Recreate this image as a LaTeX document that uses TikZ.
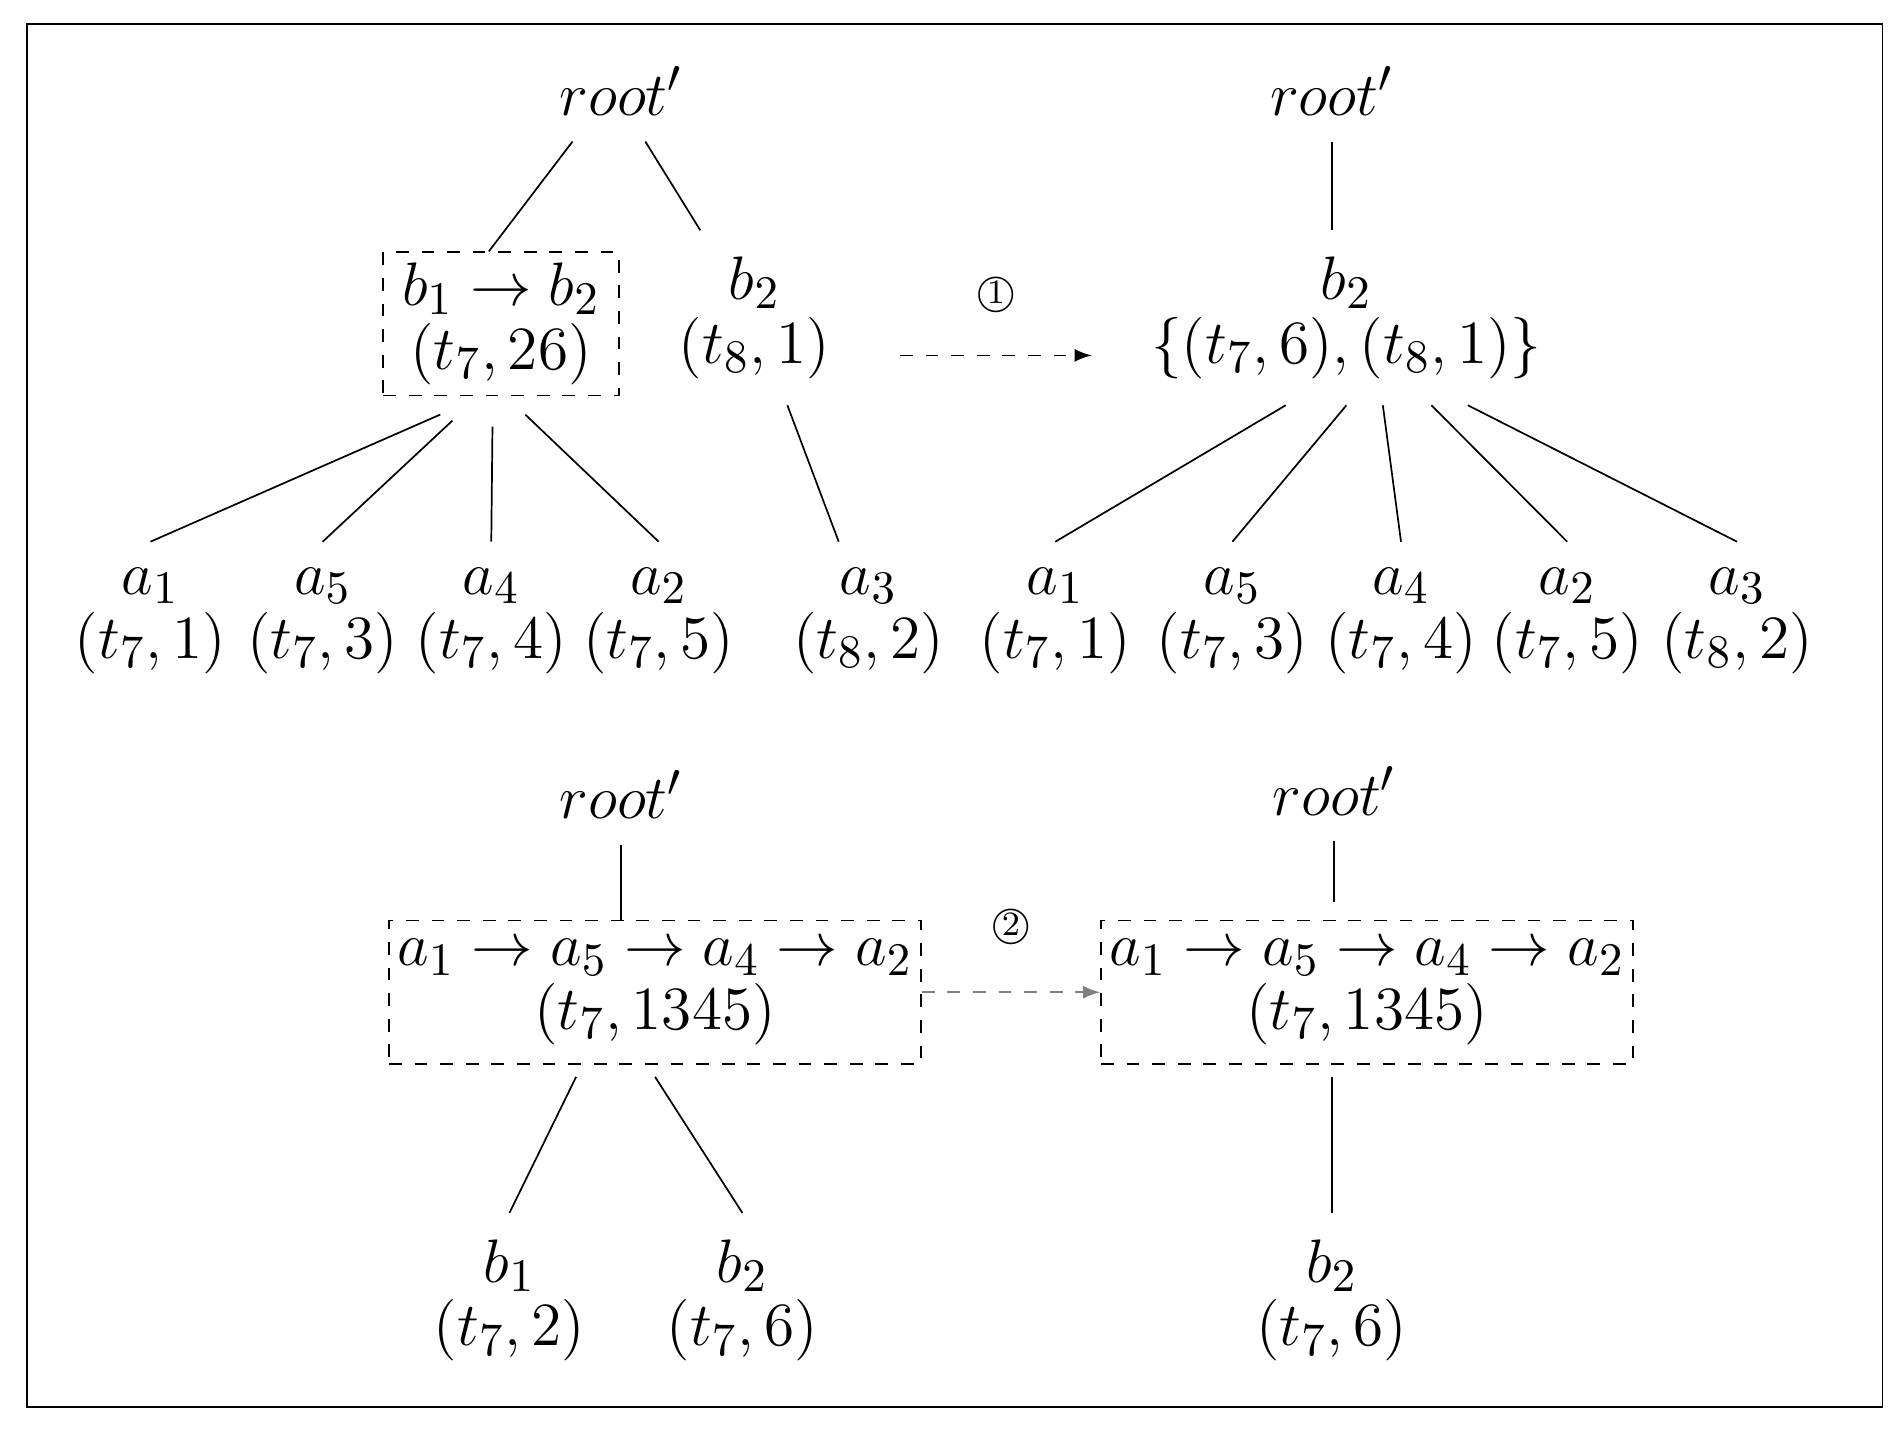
\documentclass[tikz,border=0pt]{standalone}
\usepackage{amsmath,amssymb}
\usepackage{tikz}
\usetikzlibrary{positioning}

\begin{document}
\fontsize{15}{15}\selectfont
\begin{tikzpicture}[x=0.01cm, y=-0.01cm,
    lab/.style = {align=center, inner sep=6pt},
    seq/.style = {align=center, draw, dashed, inner sep=2pt},
    flow/.style = {->, dashed, >=latex}]
    \useasboundingbox (0,0) rectangle (1568,1179);
    \draw (22,20) rectangle (1552,1160);

    % upper left tree
    \node[lab] (r1) at (512,75) {$root'$};
    \node[seq, minimum width=1.94cm, minimum height=1.18cm] (p1) at (413,267) {$b_1\rightarrow b_2$\\$(t_7,26)$};
    \node[lab] (b2) at (622,262) {$b_2$\\$(t_8,1)$};
    \node[lab] (a1) at (124,512) {$a_1$\\$(t_7,1)$};
    \node[lab] (a5) at (266,512) {$a_5$\\$(t_7,3)$};
    \node[lab] (a4) at (405,512) {$a_4$\\$(t_7,4)$};
    \node[lab] (a2) at (543,512) {$a_2$\\$(t_7,5)$};
    \node[lab] (a3) at (716,512) {$a_3$\\$(t_8,2)$};
    \draw ([xshift=-4mm]r1.south) -- ([xshift=-1mm]p1.north);
    \draw ([xshift=2mm]r1.south) -- (b2);
    \draw ([xshift=-5mm,yshift=-1.5mm]p1.south) -- (a1.north);
    \draw ([xshift=-4mm,yshift=-2mm]p1.south) -- (a5.north);
    \draw ([xshift=-0.7mm,yshift=-2.5mm]p1.south) -- (a4.north);
    \draw ([xshift=2mm,yshift=-1.5mm]p1.south) -- (a2.north);
    \draw (b2) -- (a3);

    \coordinate (s1) at (742,293); \coordinate (e1) at (900,293);
    \draw[flow] (s1) -- node[above=5pt] {\small\textcircled{\footnotesize 1}} (e1);

    % upper right tree
    \node[lab] (r2) at (1098,75) {$root'$};
    \node[lab] (m2) at (1110,262) {$b_2$\\$\{(t_7,6),(t_8,1)\}$};
    \node[lab] (c1) at (870,512) {$a_1$\\$(t_7,1)$};
    \node[lab] (c5) at (1016,512) {$a_5$\\$(t_7,3)$};
    \node[lab] (c4) at (1155,512) {$a_4$\\$(t_7,4)$};
    \node[lab] (c2) at (1292,512) {$a_2$\\$(t_7,5)$};
    \node[lab] (c3) at (1432,512) {$a_3$\\$(t_8,2)$};
    \draw (r2.south) -- (r2|-m2.north);
    \draw ([xshift=-5mm]m2.south) -- (c1.north);
    \draw ([xshift=0mm]m2.south) -- (c5.north);
    \draw ([xshift=3mm]m2.south) -- (c4.north);
    \draw ([xshift=7mm]m2.south) -- (c2.north);
    \draw ([xshift=10mm]m2.south) -- (c3.north);

    % lower left tree
    \node[lab] (r3) at (512,655) {$root'$};
    \node[seq, minimum width=4.33cm, minimum height=1.18cm] (p3) at (540,818) {$a_1\rightarrow a_5\rightarrow a_4\rightarrow a_2$\\$(t_7,1345)$};
    \node[lab] (d1) at (420,1072) {$b_1$\\$(t_7,2)$};
    \node[lab] (d2) at (612,1072) {$b_2$\\$(t_7,6)$};
    \draw (r3.south) -- (r3|-p3.north);
    \draw ([xshift=-6.5mm,yshift=-1mm]p3.south) -- (d1.north);
    \draw ([xshift=0mm,yshift=-1mm]p3.south) -- (d2.north);

    % lower right tree
    \node[lab] (r4) at (1100,652) {$root'$};
    \node[seq, minimum width=4.30cm, minimum height=1.18cm] (p4) at (1127,818) {$a_1\rightarrow a_5\rightarrow a_4\rightarrow a_2$\\$(t_7,1345)$};
    \node[lab] (f2) at (1098,1072) {$b_2$\\$(t_7,6)$};
    \draw (r4.south) -- ([yshift=1.5mm]r4|-p4.north);
    \draw ([yshift=-1mm]f2|-p4.south) -- (f2.north);

    \draw[flow, gray] (p3) -- node[above=6pt, black] {\small\textcircled{\footnotesize 2}} (p4);
\end{tikzpicture}
\end{document}
